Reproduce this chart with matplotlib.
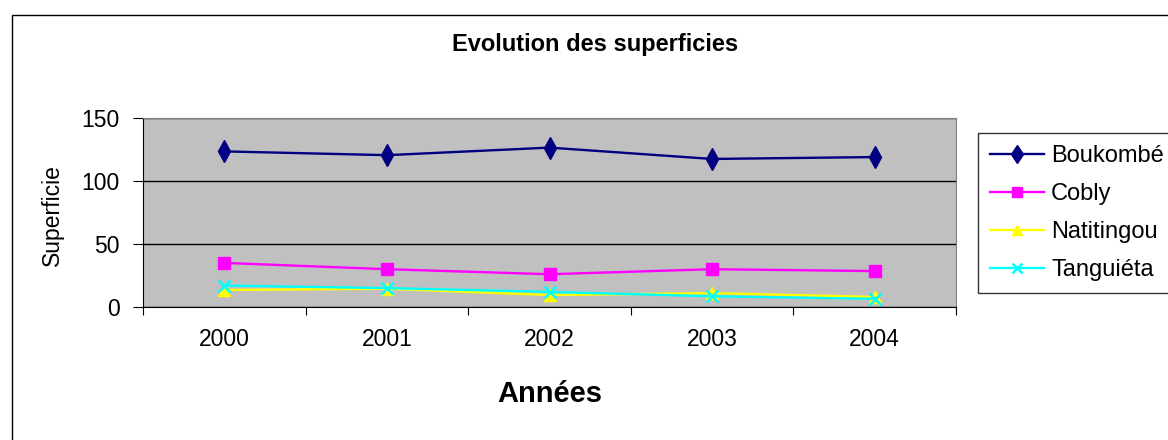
import matplotlib
matplotlib.use("Agg")
import matplotlib.pyplot as plt
from matplotlib.patches import Rectangle

plt.rcParams['font.family'] = ['Liberation Sans', 'DejaVu Sans']

# data
annees = ['2000', '2001', '2002', '2003', '2004']
boukombe = [123.5, 120.5, 126.5, 117.5, 119]
cobly = [35, 30, 26, 30, 28.5]
natitingou = [13.5, 14.5, 9.5, 11, 8]
tanguieta = [17, 15, 12, 8.5, 6.5]

W, H = 1168, 440
fig = plt.figure(figsize=(W / 100, H / 100), dpi=100)

# outer chart border (cut off on the right and bottom like the original)
fig.patches.append(Rectangle((12 / W, -0.1), 1.2, 1 - 15 / H + 0.1, transform=fig.transFigure,
                             fill=False, edgecolor='black', linewidth=1.0))

ax = fig.add_axes([143 / W, 1 - 307 / H, (956 - 143) / W, (307 - 118) / H])
ax.set_facecolor('#c0c0c0')

x = range(len(annees))
ax.plot(x, boukombe, color='#000080', marker='d', markersize=11, linewidth=1.7, label='Boukombé')
ax.plot(x, cobly, color='#ff00ff', marker='s', markersize=8, linewidth=1.7, label='Cobly')
ax.plot(x, natitingou, color='#ffff00', marker='^', markersize=9, linewidth=1.7, label='Natitingou')
ax.plot(x, tanguieta, color='#00ffff', marker='x', markersize=9, markeredgewidth=1.8,
        linewidth=1.7, label='Tanguiéta')

ax.set_xlim(-0.5, len(annees) - 0.5)
ax.set_ylim(0, 150)
ax.set_yticks([0, 50, 100, 150])
ax.yaxis.grid(True, color='black', linewidth=1.0)
ax.set_axisbelow(True)

# categories labelled in the middle, ticks on the boundaries
ax.set_xticks([i - 0.5 for i in range(len(annees) + 1)])
ax.set_xticklabels([])
ax.set_xticks(list(x), minor=True)
ax.set_xticklabels(annees, minor=True, fontsize=16.5)
ax.tick_params(axis='x', which='major', length=6, color='black')
ax.tick_params(axis='x', which='minor', length=0, pad=15)
ax.tick_params(axis='y', length=7, labelsize=16.5, pad=10)

for side in ['top', 'right']:
    ax.spines[side].set_color('#808080')
ax.spines['left'].set_color('black')
ax.spines['bottom'].set_color('black')

fig.text(595 / W, 1 - 45 / H, 'Evolution des superficies', ha='center', va='center',
         fontsize=17, fontweight='bold')
fig.text(550 / W, 1 - 394 / H, 'Années', ha='center', va='center', fontsize=21, fontweight='bold')
fig.text(52 / W, 1 - 215 / H, 'Superficie', ha='center', va='center', rotation=90, fontsize=16.5)

leg = fig.legend(loc='upper left', bbox_to_anchor=(978 / W, 1 - 133 / H), borderaxespad=0,
                 fontsize=17, frameon=True, fancybox=False, handlelength=2.3,
                 labelspacing=0.68, borderpad=0.5, handletextpad=0.3, markerscale=0.85)
leg.get_frame().set_edgecolor('black')
leg.get_frame().set_linewidth(1.0)

fig.savefig('out.png', dpi=100)
